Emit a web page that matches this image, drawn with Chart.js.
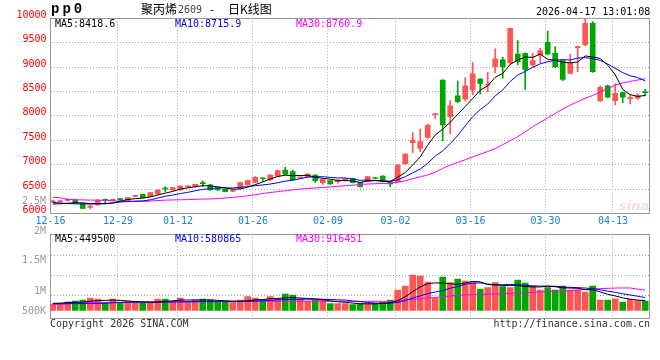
<!DOCTYPE html>
<html>
<head>
<meta charset="utf-8">
<script src="https://cdn.jsdelivr.net/npm/chart.js@4"></script>
<style>
  body { margin: 0; background: #fff; }
  #caja { position: relative; width: 660px; height: 360px; overflow: hidden; font-family: "DejaVu Sans Mono", monospace; font-size: 10px; }
  #caja canvas { position: absolute; left: 0; }
  .txt { position: absolute; white-space: pre; line-height: 10px; }
  .cjk { position: absolute; white-space: pre; font-family: "Noto Sans CJK SC", sans-serif; font-size: 12px; line-height: 12px; }
  .volEje { position: absolute; right: 614px; text-align: right; color: #999; }
</style>
</head>
<body>
<div id="caja">
  <canvas id="preciosChart" width="660" height="232" style="top:0"></canvas>
  <canvas id="volumenChart" width="660" height="95" style="top:230px"></canvas>

  <div class="txt" style="left:51px;top:2px;font:bold 14px 'Liberation Mono',monospace;letter-spacing:3px;line-height:14px">pp0</div>
  <div class="cjk" style="left:141px;top:3px">聚丙烯</div>
  <div class="txt" style="left:178px;top:5px;color:#444">2609</div>
  <div class="cjk" style="left:210px;top:3px">-</div>
  <div class="cjk" style="left:228px;top:3px">日K线图</div>
  <div class="txt" style="left:536px;top:6.5px">2026-04-17 13:01:08</div>

  <div class="txt" style="left:55px;top:19px;color:#000">MA5:8418.6</div>
  <div class="txt" style="left:175px;top:19px;color:#0000ff">MA10:8715.9</div>
  <div class="txt" style="left:296px;top:19px;color:#ff00ff">MA30:8760.9</div>

  <div class="txt" style="left:55px;top:234px;color:#000">MA5:449500</div>
  <div class="txt" style="left:175px;top:234px;color:#0000ff">MA10:580865</div>
  <div class="txt" style="left:296px;top:234px;color:#ff00ff">MA30:916451</div>

  <div class="txt volEje" style="top:195.5px">2.5M</div>
  <div class="txt volEje" style="top:225.7px">2M</div>
  <div class="txt volEje" style="top:255.2px">1.5M</div>
  <div class="txt volEje" style="top:285.9px">1M</div>
  <div class="txt volEje" style="top:306.2px">500K</div>

  <div class="txt" style="left:50px;top:319px;color:#333">Copyright 2026 SINA.COM</div>
  <div class="txt" style="right:10px;top:319px;color:#333">http://finance.sina.com.cn</div>
  <div class="txt" style="left:619px;top:198px;font:bold italic 13px 'DejaVu Sans',sans-serif;color:rgba(220,120,120,0.25)">sina</div>
</div>

<script>
// dias de negociacion (categorias)
const dias = [
  "12-16", "12-17", "12-18", "12-19", "12-22", "12-23", "12-24", "12-25", "12-26", "12-29",
  "12-30", "12-31", "01-05", "01-06", "01-07", "01-08", "01-09", "01-12", "01-13", "01-14",
  "01-15", "01-16", "01-19", "01-20", "01-21", "01-22", "01-23", "01-26", "01-27", "01-28",
  "01-29", "01-30", "02-02", "02-03", "02-04", "02-05", "02-06", "02-09", "02-10", "02-11",
  "02-12", "02-13", "02-24", "02-25", "02-26", "02-27", "03-02", "03-03", "03-04", "03-05",
  "03-06", "03-09", "03-10", "03-11", "03-12", "03-13", "03-16", "03-17", "03-18", "03-19",
  "03-20", "03-23", "03-24", "03-25", "03-26", "03-27", "03-30", "03-31", "04-01", "04-02",
  "04-03", "04-07", "04-08", "04-09", "04-10", "04-13", "04-14", "04-15", "04-16", "04-17",
];
// etiquetas del eje x
const etiquetasX = ["12-16", "12-29", "01-12", "01-26", "02-09", "03-02", "03-16", "03-30", "04-13"];

const apertura = [
  6238, 6240, 6270, 6277, 6208, 6127, 6174, 6280, 6272, 6292,
  6263, 6352, 6393, 6345, 6400, 6505, 6481, 6481, 6545, 6550,
  6620, 6590, 6529, 6495, 6460, 6516, 6584, 6639, 6725, 6690,
  6768, 6891, 6857, 6728, 6754, 6789, 6632, 6673, 6652, 6673,
  6721, 6632, 6652, 6726, 6768, 6652, 6652, 7014, 7451, 7335,
  7561, 8025, 8735, 7986, 8409, 8341, 8532, 8757, 8628, 9010,
  9147, 9090, 9268, 9282, 9043, 9248, 9507, 9282, 9132, 8873,
  9400, 9453, 9897, 8314, 8614, 8314, 8477, 8355, 8361, 8480,
];
const maximo = [
  6275, 6270, 6300, 6290, 6215, 6160, 6285, 6295, 6295, 6300,
  6330, 6370, 6400, 6435, 6490, 6550, 6535, 6570, 6565, 6605,
  6670, 6600, 6535, 6502, 6480, 6640, 6685, 6755, 6728, 6800,
  6890, 6946, 6890, 6750, 6820, 6795, 6708, 6680, 6690, 6720,
  6728, 6640, 6762, 6735, 6775, 6660, 7000, 7230, 7656, 7732,
  7830, 8053, 8740, 8314, 8715, 8783, 9099, 8765, 8894, 9372,
  9201, 9800, 9541, 9290, 9282, 9384, 9740, 9418, 9140, 9268,
  9432, 10000, 9931, 8614, 8630, 8655, 8485, 8430, 8464, 8545,
];
const minimo = [
  6215, 6225, 6255, 6200, 6100, 6092, 6165, 6208, 6260, 6270,
  6255, 6345, 6320, 6340, 6395, 6447, 6475, 6475, 6535, 6540,
  6550, 6475, 6475, 6440, 6445, 6505, 6575, 6630, 6650, 6680,
  6760, 6795, 6680, 6720, 6745, 6639, 6598, 6595, 6619, 6665,
  6625, 6540, 6645, 6710, 6645, 6550, 6645, 7005, 7246, 7267,
  7540, 7950, 7492, 7630, 8272, 8306, 8429, 8450, 8497, 8887,
  8771, 9060, 9043, 8544, 9010, 9091, 9250, 8990, 8722, 8859,
  8907, 9440, 8890, 8290, 8370, 8225, 8272, 8245, 8340, 8409,
];
const cierre = [
  6246, 6250, 6280, 6208, 6106, 6154, 6277, 6270, 6280, 6285,
  6324, 6360, 6324, 6427, 6481, 6498, 6529, 6563, 6552, 6598,
  6612, 6481, 6481, 6447, 6468, 6632, 6673, 6741, 6712, 6789,
  6877, 6805, 6690, 6736, 6809, 6673, 6700, 6605, 6686, 6714,
  6632, 6550, 6755, 6718, 6652, 6605, 6994, 7219, 7506, 7472,
  7813, 8035, 7813, 8205, 8293, 8614, 8860, 8668, 8640, 9167,
  9010, 9794, 9111, 8954, 9132, 9337, 9268, 9009, 8750, 9077,
  9410, 9897, 8907, 8587, 8382, 8464, 8382, 8365, 8409, 8474,
];
const ma5 = [
  6195, 6200, 6210, 6220, 6218, 6200, 6205, 6203, 6217, 6253,
  6287, 6304, 6315, 6340, 6379, 6418, 6452, 6500, 6525, 6548,
  6571, 6562, 6547, 6524, 6498, 6502, 6540, 6592, 6645, 6709,
  6758, 6785, 6775, 6779, 6783, 6743, 6722, 6705, 6675, 6676,
  6667, 6637, 6667, 6674, 6661, 6656, 6745, 6838, 6995, 7159,
  7401, 7609, 7728, 7868, 8032, 8192, 8357, 8528, 8615, 8790,
  8869, 9056, 9144, 9207, 9200, 9266, 9161, 9140, 9099, 9088,
  9103, 9229, 9208, 9176, 9037, 8847, 8544, 8436, 8400, 8418.6,
];
const ma10 = [
  6230, 6215, 6205, 6198, 6195, 6195, 6197, 6200, 6215, 6235,
  6244, 6255, 6259, 6279, 6316, 6353, 6378, 6408, 6433, 6464,
  6495, 6507, 6524, 6525, 6523, 6537, 6551, 6570, 6585, 6604,
  6630, 6663, 6684, 6712, 6746, 6751, 6754, 6740, 6727, 6730,
  6705, 6680, 6686, 6675, 6669, 6662, 6691, 6753, 6835, 6910,
  7029, 7177, 7283, 7432, 7596, 7797, 7983, 8128, 8242, 8411,
  8531, 8707, 8836, 8911, 8995, 9068, 9109, 9142, 9153, 9144,
  9185, 9195, 9174, 9138, 9063, 8975, 8887, 8822, 8788, 8715.9,
];
const ma30 = [
  6330, 6322, 6290, 6282, 6278, 6275, 6272, 6268, 6262, 6252,
  6246, 6244, 6246, 6255, 6265, 6274, 6278, 6281, 6285, 6290,
  6295, 6298, 6305, 6318, 6330, 6345, 6365, 6385, 6410, 6430,
  6448, 6465, 6485, 6500, 6512, 6522, 6532, 6545, 6557, 6568,
  6580, 6595, 6604, 6610, 6615, 6622, 6640, 6670, 6715, 6750,
  6790, 6845, 6925, 6990, 7045, 7100, 7160, 7215, 7270, 7330,
  7410, 7495, 7574, 7675, 7779, 7870, 7960, 8050, 8140, 8220,
  8290, 8360, 8420, 8490, 8560, 8630, 8675, 8705, 8735, 8760.9,
];
const volumen = [
  278000, 278000, 383000, 428000, 473000, 563000, 518000, 352000, 518000, 352000,
  413000, 352000, 323000, 383000, 518000, 518000, 413000, 563000, 413000, 473000,
  518000, 473000, 383000, 383000, 352000, 473000, 622000, 563000, 473000, 622000,
  518000, 743000, 698000, 518000, 413000, 473000, 473000, 307000, 307000, 307000,
  263000, 308000, 308000, 308000, 383000, 473000, 923000, 1103000, 1598000, 1553000,
  1283000, 563000, 1508000, 1253000, 1418000, 1328000, 1253000, 968000, 1028000, 1253000,
  1073000, 1028000, 1373000, 1238000, 1103000, 923000, 1028000, 923000, 1103000, 923000,
  923000, 833000, 1103000, 473000, 473000, 520000, 380000, 500000, 450000, 420000,
];
const volMa5 = [
  323000, 330000, 365000, 370000, 372000, 420000, 445000, 455000, 470000, 455000,
  430000, 400000, 390000, 370000, 380000, 415000, 435000, 470000, 470000, 475000,
  475000, 480000, 455000, 435000, 420000, 415000, 440000, 475000, 495000, 530000,
  545000, 565000, 580000, 560000, 540000, 520000, 490000, 430000, 395000, 370000,
  335000, 300000, 300000, 300000, 315000, 355000, 440000, 620000, 850000, 1060000,
  1210000, 1240000, 1240000, 1200000, 1180000, 1240000, 1310000, 1290000, 1170000, 1150000,
  1130000, 1130000, 1130000, 1080000, 1060000, 1060000, 1090000, 1070000, 1020000, 1010000,
  1000000, 940000, 935000, 835000, 730000, 655000, 570000, 510000, 470000, 449500,
];
const volMa10 = [
  305000, 305000, 308000, 310000, 312000, 315000, 320000, 330000, 345000, 360000,
  370000, 372000, 375000, 375000, 378000, 380000, 385000, 390000, 395000, 400000,
  405000, 410000, 412000, 414000, 414000, 414000, 418000, 425000, 440000, 455000,
  480000, 490000, 500000, 505000, 510000, 510000, 505000, 495000, 480000, 470000,
  430000, 400000, 360000, 335000, 320000, 330000, 365000, 450000, 555000, 660000,
  760000, 830000, 900000, 1000000, 1080000, 1180000, 1230000, 1240000, 1190000, 1160000,
  1160000, 1170000, 1170000, 1130000, 1110000, 1095000, 1100000, 1090000, 1060000, 1040000,
  1030000, 1010000, 990000, 930000, 870000, 820000, 750000, 700000, 640000, 580865,
];
const volMa30 = [
  280000, 285000, 300000, 330000, 355000, 360000, 362000, 364000, 366000, 368000,
  370000, 372000, 374000, 376000, 378000, 380000, 382000, 384000, 386000, 388000,
  390000, 392000, 394000, 396000, 398000, 400000, 405000, 408000, 410000, 412000,
  414000, 416000, 418000, 419000, 420000, 420000, 418000, 416000, 415000, 414000,
  414000, 413000, 412000, 412000, 412000, 414000, 440000, 465000, 500000, 530000,
  560000, 585000, 620000, 650000, 675000, 700000, 715000, 730000, 740000, 750000,
  760000, 770000, 785000, 800000, 815000, 835000, 850000, 865000, 880000, 900000,
  925000, 945000, 965000, 985000, 1000000, 1010000, 1015000, 1013000, 960000, 916451,
];

const ROJO = "#ff5555";
const VERDE = "#00a600";
const GRIS_REJILLA = "#a8a8a8";

Chart.defaults.font.family = "'DejaVu Sans Mono', monospace";
Chart.defaults.font.size = 10;

// rojo = sube, verde = baja
const colores = cierre.map((c, i) => (c >= apertura[i] ? ROJO : VERDE));
const puntos = (serie) => serie.map((v, i) => ({ x: i, y: v }));
const posTicks = etiquetasX.map((d) => dias.indexOf(d) - 0.3);

// marco gris alrededor del area del grafico
const marco = {
  id: "marco",
  beforeDatasetsDraw(chart) {
    const { ctx, chartArea: a } = chart;
    const l = Math.floor(a.left) + 0.5;
    const t = Math.floor(a.top) + 0.5;
    const r = Math.floor(a.right) + 0.5;
    const b = Math.floor(a.bottom) + 0.5;
    ctx.save();
    ctx.strokeStyle = "#999";
    ctx.lineWidth = 1;
    ctx.strokeRect(l, t, r - l, b - t);
    ctx.restore();
  },
};

function lineaMA(datos, color) {
  return {
    type: "line",
    data: puntos(datos),
    borderColor: color,
    borderWidth: 1,
    pointRadius: 0,
    tension: 0,
    order: 0,
  };
}

const ejeX = {
  type: "linear",
  offset: false,
  min: -0.3,
  max: 79.6,
  afterBuildTicks: (eje) => {
    eje.ticks = posTicks.map((v) => ({ value: v }));
  },
  grid: { color: GRIS_REJILLA, drawTicks: false, offset: false },
  border: { display: false, dash: [1, 2] },
};

document.addEventListener("DOMContentLoaded", function () {
  // grafico de velas
  const ctx = document.getElementById("preciosChart").getContext("2d");
  new Chart(ctx, {
    type: "bar",
    data: {
      datasets: [
        lineaMA(ma5, "#000000"),
        lineaMA(ma10, "#0000ff"),
        lineaMA(ma30, "#ff00ff"),
        {
          label: "cuerpo",
          data: dias.map((d, i) => ({ x: i, y: [apertura[i], cierre[i]] })),
          backgroundColor: colores,
          barThickness: 5,
          minBarLength: 1,
          order: 1,
        },
        {
          label: "mecha",
          data: dias.map((d, i) => ({ x: i, y: [minimo[i], maximo[i]] })),
          backgroundColor: colores,
          barThickness: 1,
          order: 2,
        },
      ],
    },
    options: {
      responsive: false,
      animation: false,
      layout: { padding: { top: 18.3, right: 10.3, left: 0, bottom: 0 } },
      datasets: { bar: { grouped: false } },
      plugins: { legend: { display: false }, tooltip: { enabled: false } },
      scales: {
        x: Object.assign({}, ejeX, {
          afterFit: (s) => {
            s.height = 18.5;
          },
          ticks: {
            color: "#1a80d0",
            padding: 2,
            maxRotation: 0,
            autoSkip: false,
            callback: (v) => dias[Math.round(v + 0.3)],
          },
        }),
        y: {
          min: 6000,
          max: 10000,
          afterFit: (s) => {
            s.width = 50.5;
          },
          ticks: {
            stepSize: 500,
            color: "#ff0000",
            padding: 4,
            labelOffset: -3,
            callback: (v) => String(v),
          },
          grid: { color: GRIS_REJILLA, drawTicks: false },
          border: { display: false, dash: [1, 2] },
        },
      },
    },
    plugins: [marco],
  });

  // grafico de volumen
  const ctx2 = document.getElementById("volumenChart").getContext("2d");
  new Chart(ctx2, {
    type: "bar",
    data: {
      datasets: [
        lineaMA(volMa5, "#000000"),
        lineaMA(volMa10, "#0000ff"),
        lineaMA(volMa30, "#ff00ff"),
        {
          label: "volumen",
          data: puntos(volumen),
          backgroundColor: colores,
          barThickness: 6,
          order: 1,
        },
      ],
    },
    options: {
      responsive: false,
      animation: false,
      layout: { padding: { top: 4.3, right: 10.3, left: 0, bottom: 0 } },
      plugins: { legend: { display: false }, tooltip: { enabled: false } },
      scales: {
        x: Object.assign({}, ejeX, {
          afterFit: (s) => {
            s.height = 7;
          },
          ticks: { display: false },
        }),
        y: {
          min: -337500,
          max: 3429000,
          afterBuildTicks: (eje) => {
            eje.ticks = [697500, 1597500, 2497500].map((v) => ({ value: v }));
          },
          afterFit: (s) => {
            s.width = 50.5;
          },
          ticks: { display: false },
          grid: { color: GRIS_REJILLA, drawTicks: false },
          border: { display: false, dash: [1, 2] },
        },
      },
    },
    plugins: [marco],
  });
});
</script>
</body>
</html>
